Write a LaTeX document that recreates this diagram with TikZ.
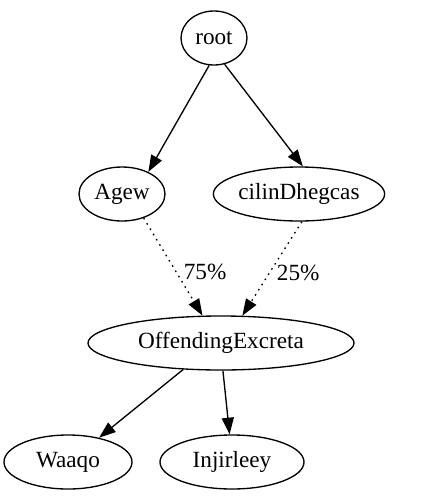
\documentclass[tikz,border=0pt]{standalone}
\usepackage{fontspec}
\setmainfont{Liberation Serif}
\newfontfamily\gvfont{Liberation Serif}
\usetikzlibrary{arrows.meta,shapes.geometric}
\newcommand{\EH}{40.5pt}

\begin{document}
\begin{tikzpicture}[
    x=0.75pt, y=-0.75pt,
    N/.style={ellipse, draw=black, line width=1pt, inner sep=0pt, minimum height=\EH,
      font=\gvfont\fontsize{17.4}{20}\selectfont},
    edge/.style={draw=black, line width=1pt, -{Triangle[length=12.5pt, width=9pt]}},
    soft/.style={edge, dash pattern=on 1.2pt off 3.4pt},
    pct/.style={font=\gvfont\fontsize{17.4}{20}\selectfont},
  ]
  \useasboundingbox (0,0) rectangle (431,497);

  % nodes
  \node[N, minimum width=49.5pt]  (root)  at (214,38)  {root};
  \node[N, minimum width=64.5pt]  (agew)  at (122,194) {Agew};
  \node[N, minimum width=117pt]   (cilin) at (299,194) {cilinDhegcas};
  \node[N, minimum width=199.5pt] (offex) at (221,343) {OffendingExcreta};
  \node[N, minimum width=96pt]    (waaqo) at (68,462)  {Waaqo};
  \node[N, minimum width=108pt]   (injir) at (232,462) {Injirleey};

  % edges
  \draw[edge] (root.-100) -- (agew.40);
  \draw[edge] (root.-68)  -- (cilin.82);
  \draw[soft] (agew.-48)  -- (offex.124) node[pct, pos=0.55, right=2pt] {75\%};
  \draw[soft] (cilin.-84) -- (offex.52)  node[pct, pos=0.55, right=2pt] {25\%};
  \draw[edge] (offex.-145) -- (waaqo.38);
  \draw[edge] (offex.-86)  -- (injir.95);

\end{tikzpicture}
\end{document}
